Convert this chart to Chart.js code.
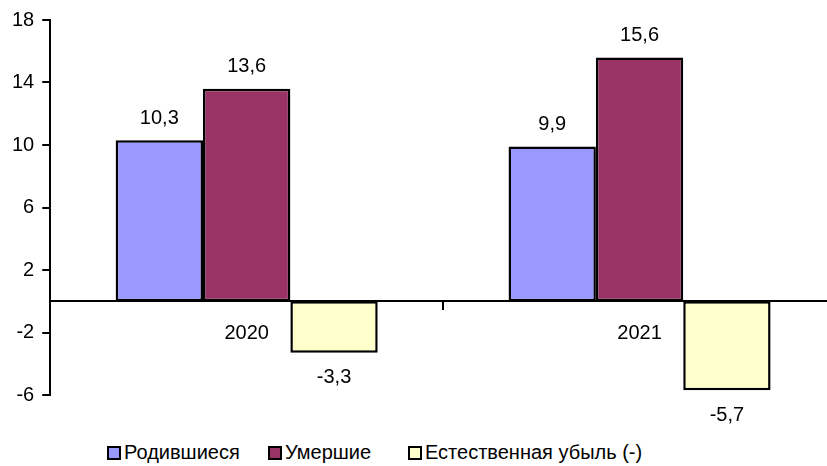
<!DOCTYPE html>
<html>
<head>
<meta charset="utf-8">
<script src="https://cdn.jsdelivr.net/npm/chart.js@4"></script>
<style>
  body { margin: 0; overflow: hidden; background: #fff; width: 827px; height: 466px; position: relative; }
  #chart { position: absolute; left: 0; top: 0; }
  #legend { position: absolute; top: 441px; left: 0; width: 827px; font: 20px "Liberation Sans", Arial, sans-serif; }
  .item { position: absolute; display: flex; align-items: center; white-space: nowrap; }
  .box { width: 10px; height: 10px; border: 2px solid #000; margin-right: 3px; }
</style>
</head>
<body>
<canvas id="chart" width="840" height="430"></canvas>
<div id="legend"></div>
<script>
const years = ['2020', '2021'];
const born = [10.3, 9.9];
const died = [13.6, 15.6];
const decline = [-3.3, -5.7];
const seriesNames = ['Родившиеся', 'Умершие', 'Естественная убыль (-)'];
const seriesColors = ['#9999FF', '#993366', '#FFFFCC'];
const yTicks = [18, 14, 10, 6, 2, -2, -6];

const font = { family: '"Liberation Sans", Arial, sans-serif', size: 20 };

// value labels above / below each bar
const valueLabels = {
  id: 'valueLabels',
  afterDatasetsDraw(chart) {
    const ctx = chart.ctx;
    ctx.save();
    ctx.font = '20px "Liberation Sans", Arial, sans-serif';
    ctx.fillStyle = '#000';
    ctx.textAlign = 'center';
    ctx.textBaseline = 'middle';
    chart.data.datasets.forEach((ds, i) => {
      chart.getDatasetMeta(i).data.forEach((bar, j) => {
        const v = ds.data[j];
        const y = v >= 0 ? bar.y - 22 : bar.y + 25;
        ctx.fillText(String(v).replace('.', ','), bar.x, y);
      });
    });
    ctx.restore();
  }
};

new Chart(document.getElementById('chart'), {
  type: 'bar',
  data: {
    labels: years,
    datasets: [
      { label: seriesNames[0], data: born, backgroundColor: seriesColors[0] },
      { label: seriesNames[1], data: died, backgroundColor: seriesColors[1] },
      { label: seriesNames[2], data: decline, backgroundColor: seriesColors[2] }
    ].map(d => Object.assign(d, { borderColor: '#000', borderWidth: 2.5, borderSkipped: false }))
  },
  options: {
    responsive: false,
    animation: false,
    categoryPercentage: 0.667,
    barPercentage: 1,
    layout: { padding: { left: 4, right: 4, top: 18, bottom: 35 } },
    plugins: { legend: { display: false }, tooltip: { enabled: false } },
    scales: {
      x: {
        position: { y: 0 },
        grid: { offset: true, drawOnChartArea: false, color: '#000', lineWidth: 2, tickLength: 8 },
        border: { color: '#000', width: 2 },
        ticks: { color: '#000', font: font, padding: 12 }
      },
      y: {
        min: -6,
        max: 18,
        afterBuildTicks: axis => { axis.ticks = yTicks.map(v => ({ value: v })); },
        grid: { drawOnChartArea: false, color: '#000', lineWidth: 2, tickLength: 8 },
        border: { color: '#000', width: 2 },
        ticks: { color: '#000', font: font, padding: 8 }
      }
    }
  },
  plugins: [valueLabels]
});

// legend with Excel-like spacing
const legendX = [107, 268, 408];
const legend = document.getElementById('legend');
seriesNames.forEach((name, i) => {
  const item = document.createElement('div');
  item.className = 'item';
  item.style.left = legendX[i] + 'px';
  item.innerHTML = '<span class="box" style="background:' + seriesColors[i] + '"></span>' + name;
  legend.appendChild(item);
});
</script>
</body>
</html>
